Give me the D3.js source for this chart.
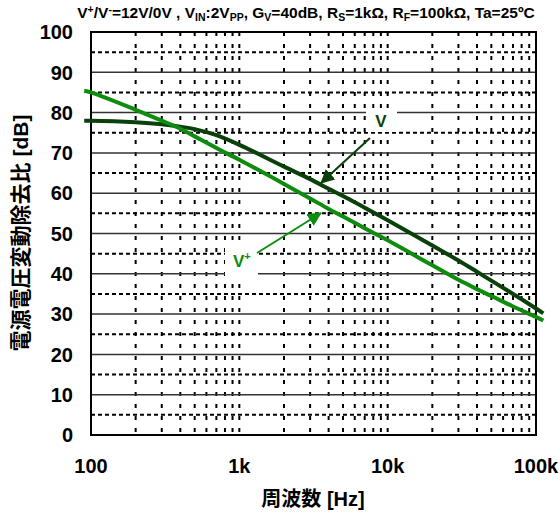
<!DOCTYPE html>
<html>
<head>
<meta charset="utf-8">
<script src="https://cdn.jsdelivr.net/npm/d3@7"></script>
<style>
  html, body { margin: 0; padding: 0; background: #fff; }
  svg { display: block; font-family: "Liberation Sans", Arial, sans-serif; }
</style>
</head>
<body>
<svg id="chart" width="560" height="516"></svg>
<script>
// Frequency sweep points [Hz]
const freqs = [90, 100, 200, 300, 400, 500, 700, 1000, 2000, 3000, 4000, 5000, 7000,
               10000, 20000, 30000, 40000, 50000, 70000, 100000, 112000];
// PSRR for the negative supply (V-) [dB]
const psrrMinus = [78, 78, 77.6, 77.1, 76.5, 75.9, 74.4, 72, 66.6, 63.5, 61.1, 59.3, 56.4,
                   53.3, 47.0, 43.3, 40.5, 38.3, 35.0, 31.4, 30.2];
// PSRR for the positive supply (V+) [dB]
const psrrPlus = [85.4, 85.0, 80.7, 78.0, 76.0, 74.1, 71.2, 68.3, 62.3, 58.7, 56.1, 54.2, 51.3,
                  48.3, 42.1, 38.5, 36.2, 34.5, 31.9, 29.3, 28.4];

const xTickValues = [100, 1000, 10000, 100000];
const xTickLabels = ["100", "1k", "10k", "100k"];
const yTickValues = [0, 10, 20, 30, 40, 50, 60, 70, 80, 90, 100];
const minorFreqs = [200, 300, 400, 500, 600, 700, 800, 900, 1000,
                    2000, 3000, 4000, 5000, 6000, 7000, 8000, 9000, 10000,
                    20000, 30000, 40000, 50000, 60000, 70000, 80000, 90000];
const halfSteps = [5, 15, 25, 35, 45, 55, 65, 75, 85, 95];

const xTitle = "周波数 [Hz]";
const yTitle = "電源電圧変動除去比 [dB]";

const svg = d3.select("#chart");
const plotLeft = 91, plotRight = 536, plotTop = 32, plotBottom = 435;

const x = d3.scaleLog().domain([100, 100000]).range([plotLeft, plotRight]);
const y = d3.scaleLinear().domain([0, 100]).range([plotBottom, plotTop]);

// grid: dashed half-steps
svg.append("g").selectAll("line").data(halfSteps).join("line")
  .attr("x1", plotLeft).attr("x2", plotRight)
  .attr("y1", d => y(d)).attr("y2", d => y(d))
  .attr("stroke", "#000").attr("stroke-width", 2).attr("stroke-dasharray", "4,3");

// grid: dotted vertical frequency lines
svg.append("g").selectAll("line").data(minorFreqs).join("line")
  .attr("x1", d => x(d)).attr("x2", d => x(d))
  .attr("y1", plotTop).attr("y2", plotBottom)
  .attr("stroke", "#000").attr("stroke-width", 2).attr("stroke-dasharray", "4,8");

// grid: solid 10 dB lines
svg.append("g").selectAll("line").data(yTickValues.slice(1, -1)).join("line")
  .attr("x1", plotLeft).attr("x2", plotRight)
  .attr("y1", d => y(d)).attr("y2", d => y(d))
  .attr("stroke", "#333").attr("stroke-width", 1.5);

// plot frame
svg.append("rect").attr("x", plotLeft).attr("y", plotTop)
  .attr("width", plotRight - plotLeft).attr("height", plotBottom - plotTop)
  .attr("fill", "none").attr("stroke", "#000").attr("stroke-width", 2);

// curves
const line = d3.line().x(d => x(d[0])).y(d => y(d[1])).curve(d3.curveCatmullRom.alpha(0.5));
const seriesList = [
  { values: psrrMinus, color: "#0a400a" },
  { values: psrrPlus, color: "#0d8c0d" }
];
seriesList.forEach(s => {
  svg.append("path")
    .datum(freqs.map((f, i) => [f, s.values[i]]))
    .attr("d", line)
    .attr("fill", "none").attr("stroke", s.color).attr("stroke-width", 4)
    .attr("stroke-linejoin", "round");
});

// annotation boxes, labels and arrows
const defs = svg.append("defs");
function marker(id, color) {
  defs.append("marker").attr("id", id)
    .attr("viewBox", "0 0 14 14").attr("refX", 13).attr("refY", 7)
    .attr("markerWidth", 14).attr("markerHeight", 14)
    .attr("markerUnits", "userSpaceOnUse").attr("orient", "auto")
    .append("path").attr("d", "M0,0 L14,7 L0,14 Z").attr("fill", color);
}
marker("headMinus", "#0a400a");
marker("headPlus", "#0d8c0d");

// V- label
svg.append("rect").attr("x", 366).attr("y", 108).attr("width", 31).attr("height", 24).attr("fill", "#fff");
svg.append("text").attr("x", 381).attr("y", 127).attr("text-anchor", "middle")
  .attr("font-size", 17).attr("font-weight", "bold").attr("fill", "#0a400a").text("V");
svg.append("line").attr("x1", 370).attr("y1", 138).attr("x2", 321).attr("y2", 183)
  .attr("stroke", "#0a400a").attr("stroke-width", 2).attr("marker-end", "url(#headMinus)");

// V+ label
svg.append("rect").attr("x", 225).attr("y", 244).attr("width", 33).attr("height", 34).attr("fill", "#fff");
const vp = svg.append("text").attr("x", 233).attr("y", 267)
  .attr("font-size", 17).attr("font-weight", "bold").attr("fill", "#0d8c0d");
vp.append("tspan").text("V");
vp.append("tspan").attr("font-size", 11).attr("dy", -7).text("+");
svg.append("line").attr("x1", 257).attr("y1", 253).attr("x2", 321).attr("y2", 213)
  .attr("stroke", "#0d8c0d").attr("stroke-width", 2).attr("marker-end", "url(#headPlus)");

// y tick labels
svg.append("g").selectAll("text").data(yTickValues).join("text")
  .attr("x", 73).attr("y", d => y(d)).attr("dy", "0.36em")
  .attr("text-anchor", "end").attr("font-size", 20).attr("font-weight", "bold")
  .text(d => d);

// x tick labels
svg.append("g").selectAll("text").data(xTickValues).join("text")
  .attr("x", d => x(d)).attr("y", 473)
  .attr("text-anchor", "middle").attr("font-size", 20).attr("font-weight", "bold")
  .text((d, i) => xTickLabels[i]);

// axis titles
svg.append("text").attr("x", 313).attr("y", 506).attr("text-anchor", "middle")
  .attr("font-size", 20).attr("font-weight", "bold")
  .style("font-family", "'Liberation Sans', 'Noto Sans CJK JP', sans-serif")
  .text(xTitle);
svg.append("text").attr("transform", "translate(28,233) rotate(-90)")
  .attr("text-anchor", "middle").attr("font-size", 21).attr("font-weight", "bold")
  .style("font-family", "'Liberation Sans', 'Noto Sans CJK JP', sans-serif")
  .text(yTitle);

// header with sub/superscripts
const title = svg.append("text").attr("x", 306).attr("y", 18).attr("text-anchor", "middle")
  .attr("font-size", 15.5).attr("font-weight", "bold");
const parts = [
  ["V"], ["+", "sup"], ["/V"], ["-", "sup"], ["=12V/0V , V"], ["IN", "sub"], [":2V"], ["PP", "sub"],
  [", G"], ["V", "sub"], ["=40dB, R"], ["S", "sub"], ["=1kΩ, R"], ["F", "sub"], ["=100kΩ, Ta=25ºC"]
];
let shift = 0;
parts.forEach(([t, kind]) => {
  const target = kind === "sup" ? -5 : kind === "sub" ? 3 : 0;
  const ts = title.append("tspan").attr("dy", target - shift).text(t);
  if (kind) ts.attr("font-size", 10.5);
  shift = target;
});
</script>
</body>
</html>
